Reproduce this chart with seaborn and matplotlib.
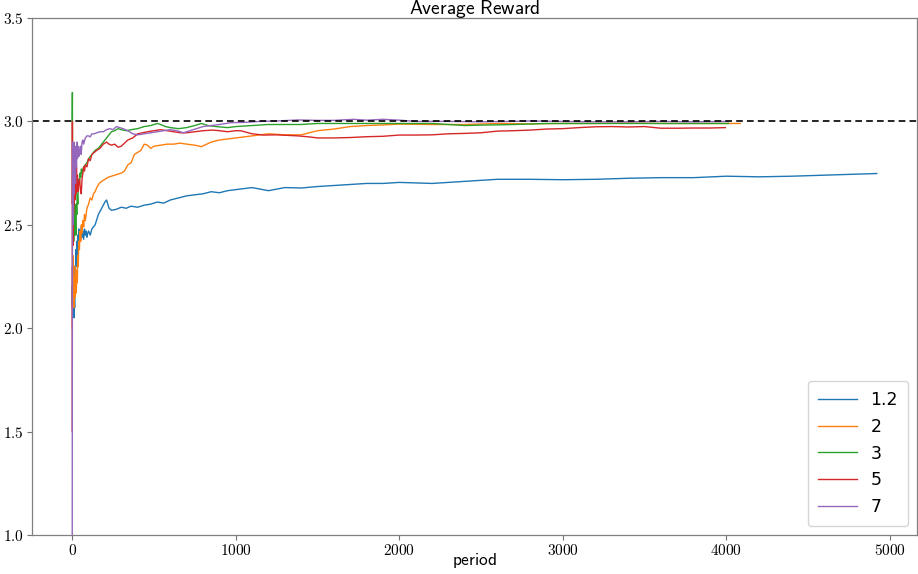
import matplotlib
matplotlib.use("Agg")
import matplotlib.pyplot as plt
from matplotlib.ticker import FuncFormatter
import seaborn as sns
import pandas as pd

# ---- data ----
series_names = ["1.2", "2", "3", "5", "7"]

x_12 = [0, 1, 2, 3, 5, 7, 9, 11, 13, 15, 17, 19, 22, 25, 28, 31, 34, 37, 40, 44, 48, 52, 56, 60,
        65, 70, 75, 80, 85, 90, 95, 100, 110, 120, 140, 160, 180, 200, 210, 225, 240, 270, 300,
        330, 360, 400, 440, 480, 520, 560, 600, 650, 700, 750, 800, 850, 900, 950, 1000, 1100,
        1200, 1300, 1400, 1500, 1600, 1700, 1800, 1900, 2000, 2200, 2400, 2600, 2800, 3000,
        3200, 3400, 3600, 3800, 4000, 4200, 4400, 4600, 4800, 4920]
y_12 = [2.20, 2.10, 2.30, 2.15, 2.25, 2.08, 2.20, 2.05, 2.15, 2.10, 2.30, 2.22, 2.38, 2.30, 2.42,
        2.35, 2.45, 2.40, 2.48, 2.42, 2.47, 2.43, 2.49, 2.44, 2.47, 2.43, 2.48, 2.45, 2.47, 2.44,
        2.46, 2.47, 2.45, 2.48, 2.50, 2.55, 2.58, 2.61, 2.62, 2.58, 2.57, 2.575, 2.585, 2.58,
        2.59, 2.585, 2.595, 2.60, 2.61, 2.605, 2.62, 2.63, 2.64, 2.645, 2.65, 2.66, 2.655, 2.665,
        2.67, 2.68, 2.665, 2.68, 2.678, 2.685, 2.69, 2.695, 2.70, 2.70, 2.705, 2.70, 2.71, 2.72,
        2.72, 2.718, 2.72, 2.725, 2.728, 2.728, 2.735, 2.732, 2.735, 2.74, 2.745, 2.748]

x_2 = [0, 2, 4, 6, 8, 10, 13, 16, 19, 22, 25, 28, 31, 34, 37, 40, 44, 48, 52, 56, 60, 65, 70, 75,
       80, 90, 100, 110, 120, 130, 140, 150, 165, 180, 200, 220, 240, 260, 280, 300, 320, 340,
       360, 380, 400, 420, 440, 460, 480, 500, 540, 580, 620, 660, 700, 750, 790, 850, 900, 1000,
       1100, 1200, 1300, 1400, 1500, 1600, 1700, 1800, 1900, 2000, 2200, 2400, 2600, 2800, 3000,
       3200, 3400, 3600, 3800, 4000, 4085]
y_2 = [2.00, 2.30, 2.15, 2.35, 2.20, 2.10, 2.25, 2.15, 2.30, 2.20, 2.17, 2.28, 2.22, 2.35, 2.30,
       2.42, 2.38, 2.47, 2.42, 2.50, 2.46, 2.52, 2.49, 2.55, 2.52, 2.58, 2.60, 2.63, 2.62, 2.65,
       2.66, 2.68, 2.70, 2.71, 2.72, 2.73, 2.735, 2.74, 2.745, 2.75, 2.76, 2.79, 2.80, 2.84, 2.85,
       2.86, 2.89, 2.885, 2.87, 2.88, 2.885, 2.89, 2.89, 2.895, 2.89, 2.885, 2.878, 2.90, 2.91,
       2.92, 2.93, 2.94, 2.935, 2.935, 2.955, 2.963, 2.975, 2.98, 2.983, 2.987, 2.985, 2.985,
       2.99, 2.988, 2.99, 2.99, 2.992, 2.99, 2.99, 2.99, 2.99]

x_3 = [0, 1, 2, 3, 5, 7, 9, 11, 13, 15, 17, 19, 22, 25, 28, 31, 34, 37, 40, 44, 48, 52, 56, 60, 70,
       80, 90, 100, 120, 140, 160, 180, 200, 220, 240, 260, 280, 300, 330, 360, 400, 440, 480, 520,
       540, 570, 600, 650, 700, 750, 790, 830, 880, 950, 1000, 1100, 1200, 1300, 1400, 1500, 1600,
       1800, 2000, 2200, 2300, 2400, 2500, 2700, 2900, 3100, 3400, 3700, 4012]
y_3 = [3.00, 3.14, 2.60, 2.80, 2.45, 2.60, 2.42, 2.55, 2.45, 2.60, 2.50, 2.55, 2.45, 2.60, 2.55,
       2.65, 2.60, 2.70, 2.72, 2.70, 2.75, 2.73, 2.77, 2.75, 2.78, 2.79, 2.80, 2.82, 2.84, 2.86,
       2.87, 2.89, 2.91, 2.93, 2.95, 2.955, 2.965, 2.96, 2.955, 2.96, 2.965, 2.975, 2.98, 2.99,
       2.985, 2.975, 2.97, 2.965, 2.97, 2.98, 2.99, 2.98, 2.975, 2.97, 2.975, 2.98, 2.985, 2.985,
       2.985, 2.99, 2.99, 2.99, 2.99, 2.99, 2.985, 2.98, 2.982, 2.985, 2.99, 2.99, 2.99, 2.99, 2.99]

x_5 = [0, 1, 2, 3, 4, 6, 8, 10, 12, 14, 17, 20, 23, 26, 29, 32, 35, 40, 45, 50, 55, 60, 65, 70, 75,
       80, 90, 100, 110, 120, 135, 150, 170, 190, 210, 225, 240, 260, 280, 300, 320, 340, 370, 400,
       430, 460, 500, 540, 580, 620, 660, 700, 750, 800, 860, 900, 950, 1000, 1030, 1100, 1170,
       1250, 1380, 1450, 1500, 1600, 1700, 1800, 1900, 2000, 2100, 2200, 2300, 2400, 2500, 2600,
       2700, 2800, 2900, 3000, 3100, 3200, 3300, 3400, 3500, 3600, 3700, 3800, 3900, 3994]
y_5 = [1.50, 3.00, 2.60, 2.80, 2.40, 2.70, 2.55, 2.78, 2.60, 2.70, 2.62, 2.75, 2.65, 2.78, 2.68,
       2.74, 2.66, 2.70, 2.72, 2.67, 2.65, 2.72, 2.75, 2.78, 2.76, 2.79, 2.78, 2.82, 2.81, 2.84,
       2.85, 2.86, 2.87, 2.89, 2.90, 2.89, 2.885, 2.89, 2.875, 2.88, 2.895, 2.91, 2.92, 2.94,
       2.945, 2.95, 2.955, 2.96, 2.955, 2.95, 2.945, 2.945, 2.95, 2.955, 2.958, 2.955, 2.95,
       2.955, 2.955, 2.94, 2.934, 2.935, 2.93, 2.925, 2.92, 2.92, 2.922, 2.926, 2.928, 2.934,
       2.934, 2.935, 2.94, 2.942, 2.945, 2.953, 2.955, 2.958, 2.963, 2.965, 2.97, 2.974, 2.975,
       2.973, 2.975, 2.967, 2.967, 2.968, 2.968, 2.97]

x_7 = [0, 1, 2, 3, 4, 6, 8, 10, 12, 14, 17, 20, 23, 26, 29, 32, 35, 40, 45, 50, 55, 60, 65, 70, 80,
       90, 100, 110, 120, 135, 150, 170, 190, 210, 230, 250, 270, 290, 310, 340, 370, 400, 440, 480,
       520, 560, 600, 640, 680, 720, 760, 800, 850, 900, 970, 1050, 1150, 1250, 1380, 1500, 1600,
       1720, 1800, 1900, 2000, 2100, 2300, 2500, 2700, 2800, 3000, 3200, 3400, 3600, 3800, 4012]
y_7 = [1.00, 2.30, 2.90, 2.50, 2.75, 2.55, 2.85, 2.65, 2.90, 2.75, 2.85, 2.70, 2.88, 2.78, 2.90,
       2.82, 2.88, 2.83, 2.86, 2.88, 2.84, 2.90, 2.91, 2.89, 2.92, 2.93, 2.93, 2.925, 2.94, 2.94,
       2.945, 2.95, 2.95, 2.96, 2.965, 2.96, 2.975, 2.97, 2.965, 2.955, 2.94, 2.935, 2.94, 2.945,
       2.95, 2.955, 2.96, 2.955, 2.945, 2.955, 2.965, 2.975, 2.98, 2.985, 2.994, 2.995, 3.00,
       3.002, 3.007, 3.005, 3.005, 3.01, 3.006, 3.01, 3.006, 3.00, 3.00, 2.998, 3.00, 3.002, 3.00,
       2.998, 2.998, 3.00, 2.998, 3.00]

reference_level = 3.0
x_ticks = [0, 1000, 2000, 3000, 4000, 5000]
y_ticks = [1.0, 1.5, 2.0, 2.5, 3.0, 3.5]

# ---- build long table ----
frames = []
for name, xs, ys in zip(series_names, [x_12, x_2, x_3, x_5, x_7], [y_12, y_2, y_3, y_5, y_7]):
    frames.append(pd.DataFrame({"period": xs, "reward": ys, "series": name}))
df = pd.concat(frames, ignore_index=True)

plt.rcParams["mathtext.fontset"] = "cm"

fig = plt.figure(figsize=(9.18, 5.74), dpi=100)
ax = fig.add_axes([32 / 918, 39 / 574, 885 / 918, 517 / 574])

palette = dict(zip(series_names, sns.color_palette("tab10", 5)))
sns.lineplot(data=df, x="period", y="reward", hue="series", hue_order=series_names,
             palette=palette, estimator=None, sort=False, linewidth=1.0, ax=ax)

ax.axhline(reference_level, color="black", linestyle="--", linewidth=1.2, dashes=(4, 2.5))

ax.set_ylim(1.0, 3.5)
ax.set_xticks(x_ticks)
ax.set_yticks(y_ticks)
ax.xaxis.set_major_formatter(FuncFormatter(lambda v, p: "$%d$" % int(round(v))))
ax.yaxis.set_major_formatter(FuncFormatter(lambda v, p: "$%.1f$" % v))
ax.tick_params(labelsize=11, colors="0.45", labelcolor="black", length=3.5, width=0.8, pad=2.5)

for s in ax.spines.values():
    s.set_color("0.5")
    s.set_linewidth(0.9)

ax.set_xlabel("")
ax.set_ylabel("")
# title and x label placed in figure coordinates so they stay inside the canvas
fig.text(0.5 * (32 + 917) / 918, 1 - 14.5 / 574, r"$\mathsf{Average\ Reward}$",
         fontsize=14, ha="center", va="baseline")
fig.text(0.5 * (32 + 917) / 918, 1 - 565 / 574, r"$\mathsf{period}$",
         fontsize=12.5, ha="center", va="baseline")

handles, labels = ax.get_legend_handles_labels()
ax.legend(handles, labels, loc="lower right", prop={"family": "DejaVu Sans", "size": 12.5},
          frameon=True, handlelength=2.2, borderpad=0.6)

fig.savefig("out.png", dpi=100)
